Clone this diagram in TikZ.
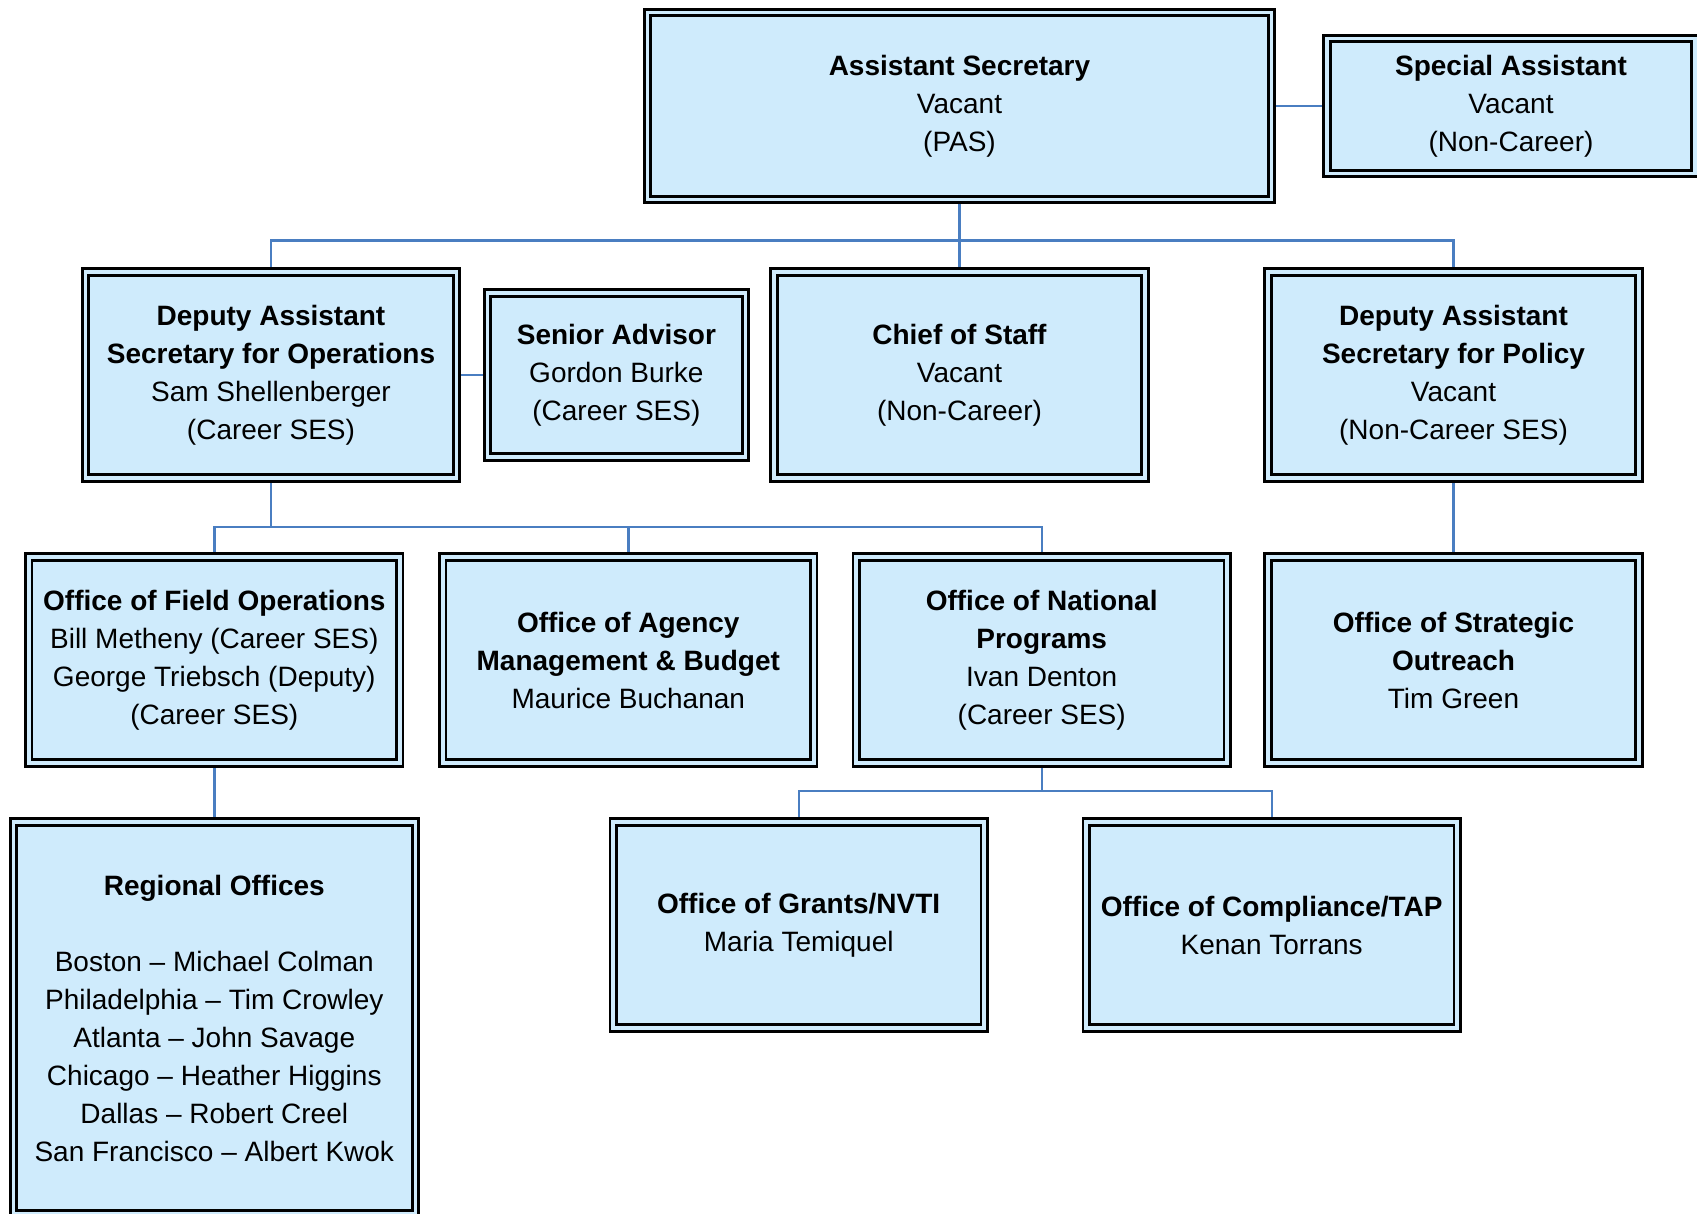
\documentclass[tikz,border=0pt]{standalone}
\usepackage{fontspec}
\setmainfont{Liberation Sans}
\usetikzlibrary{backgrounds}
\definecolor{boxblue}{RGB}{207,235,252}
\definecolor{linkblue}{RGB}{74,126,193}

\begin{document}
\begin{tikzpicture}[
  x=1pt, y=-1pt,
  font=\fontsize{28}{38}\selectfont,
  unit/.style={draw=black, line width=2.8pt, double=boxblue,
               double distance=3.6pt, fill=boxblue, align=center,
               inner sep=0pt, minimum width=371pt, minimum height=206pt},
  link/.style={draw=linkblue, line width=2.4pt},
]
\path[use as bounding box] (0,0) rectangle (1697,1213);
% top row
\node[unit, minimum width=624pt, minimum height=187pt] (as) at (959.5,106)
  {\textbf{Assistant Secretary}\\Vacant\\(PAS)};
\node[unit, minimum width=368pt, minimum height=135pt] (spa) at (1511,106)
  {\textbf{Special Assistant}\\Vacant\\(Non-Career)};
% deputies
\node[unit] (dasops) at (271,375)
  {\textbf{Deputy Assistant}\\\textbf{Secretary for Operations}\\Sam Shellenberger\\(Career SES)};
\node[unit, minimum width=258pt, minimum height=164pt] (sradv) at (616.4,375)
  {\textbf{Senior Advisor}\\Gordon Burke\\(Career SES)};
\node[unit] (cos) at (959.5,375)
  {\textbf{Chief of Staff}\\Vacant\\(Non-Career)};
\node[unit] (daspol) at (1453.5,375)
  {\textbf{Deputy Assistant}\\\textbf{Secretary for Policy}\\Vacant\\(Non-Career SES)};
% offices
\node[unit] (ofo) at (214.3,660)
  {\textbf{Office of Field Operations}\\Bill Metheny (Career SES)\\George Triebsch (Deputy)\\(Career SES)};
\node[unit] (oamb) at (628.3,660)
  {\textbf{Office of Agency}\\\textbf{Management \& Budget}\\Maurice Buchanan};
\node[unit] (onp) at (1041.7,660)
  {\textbf{Office of National}\\\textbf{Programs}\\Ivan Denton\\(Career SES)};
\node[unit] (oso) at (1453.5,660)
  {\textbf{Office of Strategic}\\\textbf{Outreach}\\Tim Green};
% bottom row
\node[unit, minimum width=402pt, minimum height=392pt] (ro) at (214.3,1018)
  {\textbf{Regional Offices}\\[38pt]Boston -- Michael Colman\\Philadelphia -- Tim Crowley\\Atlanta -- John Savage\\Chicago -- Heather Higgins\\Dallas -- Robert Creel\\San Francisco -- Albert Kwok};
\node[unit] (grants) at (798.7,925)
  {\textbf{Office of Grants/NVTI}\\Maria Temiquel};
\node[unit] (comp) at (1271.7,925)
  {\textbf{Office of Compliance/TAP}\\Kenan Torrans};

\coordinate (bus1) at (0,240.3);
\coordinate (bus2) at (0,527);
\coordinate (bus3) at (0,791.2);

% connectors sit behind the filled boxes
\begin{scope}[on background layer]
\draw[link] (as) -- (spa);
\draw[link] (as) -- (cos);
\draw[link] (dasops) -- (dasops |- bus1) -- (daspol |- bus1) -- (daspol);
\draw[link] (dasops) -- (sradv);
\draw[link] (dasops) -- (dasops |- bus2);
\draw[link] (ofo) -- (ofo |- bus2) -- (onp |- bus2) -- (onp);
\draw[link] (oamb) -- (oamb |- bus2);
\draw[link] (daspol) -- (oso);
\draw[link] (ofo) -- (ro);
\draw[link] (onp) -- (onp |- bus3);
\draw[link] (grants) -- (grants |- bus3) -- (comp |- bus3) -- (comp);
\end{scope}
\end{tikzpicture}
\end{document}
